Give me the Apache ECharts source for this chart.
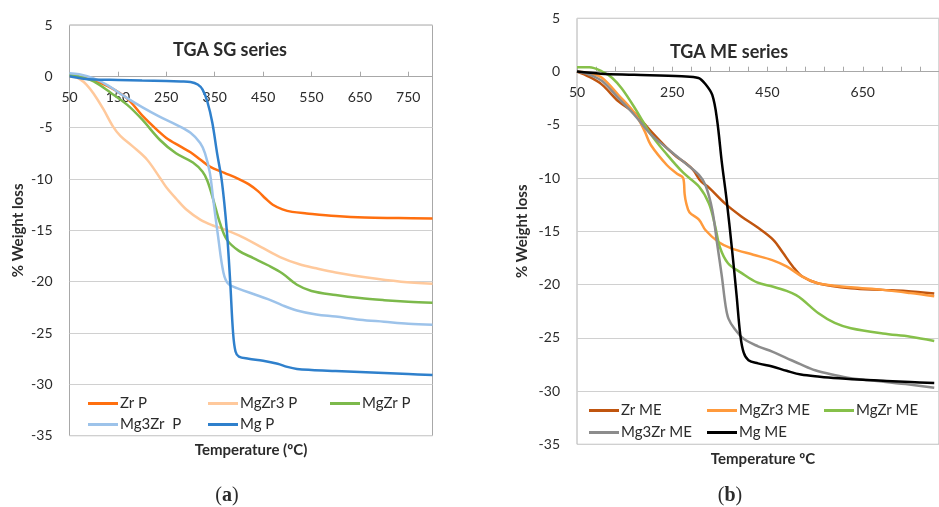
<!DOCTYPE html>
<html>
<head>
<meta charset="utf-8">
<script src="https://cdn.jsdelivr.net/npm/echarts@6/dist/echarts.min.js"></script>
<style>
  html, body { margin: 0; padding: 0; background: #fff; }
  #chart { width: 939px; height: 507px; }
</style>
</head>
<body>
<div id="chart"></div>
<script>
// TGA curves, [temperature °C, % weight loss]
const zrP = [[50,0],[75,-0.1],[100,-0.4],[135,-1.1],[170,-2.2],[200,-3.8],[235,-5.4],[250,-6.0],[278,-6.8],[300,-7.4],[320,-8.1],[340,-8.8],[370,-9.4],[400,-10.0],[420,-10.5],[440,-11.2],[455,-11.9],[470,-12.5],[490,-12.95],[510,-13.2],[540,-13.35],[600,-13.6],[660,-13.75],[730,-13.8],[800,-13.85]]
const mgZr3P = [[50,0],[60,-0.05],[72,-0.3],[85,-0.8],[100,-1.7],[120,-3.2],[140,-4.9],[155,-5.8],[180,-6.8],[210,-8.1],[237,-9.9],[250,-10.8],[270,-11.9],[292,-13.0],[320,-13.95],[345,-14.5],[370,-14.9],[400,-15.5],[445,-16.6],[485,-17.6],[525,-18.3],[560,-18.7],[600,-19.1],[665,-19.6],[735,-20.0],[800,-20.2]]
const mgZrP = [[50,0.1],[70,0],[100,-0.5],[135,-1.6],[170,-2.8],[200,-4.2],[237,-6.2],[270,-7.5],[305,-8.4],[325,-9.3],[335,-10.2],[347,-12],[361,-14.3],[375,-15.9],[400,-17],[430,-17.7],[460,-18.4],[490,-19.2],[520,-20.3],[550,-20.9],[600,-21.3],[650,-21.6],[700,-21.8],[750,-21.95],[800,-22.05]]
const mg3ZrP = [[50,0.3],[70,0.2],[100,-0.2],[130,-0.9],[165,-2],[200,-3],[235,-3.9],[270,-4.7],[300,-5.5],[320,-6.5],[330,-7.5],[340,-9.4],[347,-12],[357,-15.6],[368,-19.1],[378,-20.2],[400,-20.7],[430,-21.2],[460,-21.7],[490,-22.3],[520,-22.8],[560,-23.2],[600,-23.4],[650,-23.7],[700,-23.9],[750,-24.1],[800,-24.2]]
const mgP = [[50,0],[75,-0.2],[100,-0.3],[150,-0.35],[200,-0.4],[250,-0.45],[280,-0.5],[300,-0.55],[315,-0.8],[325,-1.3],[335,-2.5],[345,-4.5],[355,-7.5],[365,-10.3],[375,-15],[382,-20],[388,-25],[393,-26.8],[400,-27.3],[420,-27.5],[450,-27.7],[480,-28],[500,-28.3],[520,-28.5],[550,-28.6],[600,-28.7],[650,-28.8],[700,-28.9],[750,-29],[800,-29.1]]

const zrME = [[50,0],[76,-0.5],[103,-1.25],[137,-2.8],[171,-3.9],[205,-5.6],[239,-7.2],[259,-8.0],[275,-8.5],[293,-9.2],[310,-10.3],[327,-10.9],[361,-12.4],[395,-13.6],[428,-14.6],[462,-15.8],[482,-17],[503,-18.3],[523,-19.25],[557,-19.9],[625,-20.35],[692,-20.5],[740,-20.6],[800,-20.85]]
const mgZr3ME = [[50,0],[80,-0.2],[103,-0.6],[137,-2.2],[171,-3.9],[192,-5.6],[205,-6.9],[239,-8.8],[260,-9.6],[273,-10.0],[276,-11.5],[279,-12.3],[286,-13.2],[306,-13.9],[320,-14.9],[347,-16.0],[374,-16.6],[420,-17.2],[460,-17.7],[490,-18.3],[523,-19.25],[557,-19.9],[625,-20.25],[692,-20.5],[750,-20.8],[800,-21.1]]
const mgZrME = [[50,0.4],[76,0.4],[103,0],[124,-0.6],[144,-1.6],[171,-3.4],[205,-5.9],[239,-7.8],[273,-9.5],[306,-10.8],[327,-12.4],[340,-14.5],[350,-16.5],[367,-18],[395,-18.9],[428,-19.8],[462,-20.2],[490,-20.6],[510,-21],[523,-21.4],[557,-22.7],[591,-23.6],[625,-24.1],[692,-24.6],[750,-24.9],[800,-25.3]]
const mg3ZrME = [[50,0],[76,-0.3],[103,-0.9],[137,-2.5],[171,-4.1],[205,-5.9],[239,-7.2],[273,-8.45],[306,-9.7],[320,-10.7],[334,-13],[344,-16.1],[354,-19.2],[362,-22],[368,-23.2],[380,-24.1],[400,-25.1],[430,-25.8],[460,-26.3],[490,-26.9],[520,-27.5],[550,-28.05],[590,-28.5],[625,-28.8],[690,-29.1],[740,-29.35],[800,-29.7]]
const mgME = [[50,0],[100,-0.2],[170,-0.3],[270,-0.45],[305,-0.6],[320,-1.2],[334,-2.2],[344,-4.5],[354,-8.5],[364,-12],[375,-16.5],[385,-21],[393,-24.8],[400,-26.4],[410,-27.1],[430,-27.4],[460,-27.7],[490,-28.1],[520,-28.45],[560,-28.65],[600,-28.8],[650,-28.95],[700,-29.05],[750,-29.15],[800,-29.25]]

const seriesSG = [
  { name: 'Zr P', data: zrP, color: '#ff6f0f' },
  { name: 'MgZr3 P', data: mgZr3P, color: '#ffc99c' },
  { name: 'MgZr P', data: mgZrP, color: '#7cb94b' },
  { name: 'Mg3Zr  P', data: mg3ZrP, color: '#9dc3ea' },
  { name: 'Mg P', data: mgP, color: '#2f80cc' }
]
const seriesME = [
  { name: 'Zr ME', data: zrME, color: '#c0550f' },
  { name: 'MgZr3 ME', data: mgZr3ME, color: '#ff9a3c' },
  { name: 'MgZr ME', data: mgZrME, color: '#86c04a' },
  { name: 'Mg3Zr ME', data: mg3ZrME, color: '#8c8c8c' },
  { name: 'Mg ME', data: mgME, color: '#000000' }
]

const FONT = 'Lato, "Open Sans", sans-serif'
const TEXT = '#2b2b2b'

const chart = echarts.init(document.getElementById('chart'))

const makeYAxis = (gridIndex, gap) => ({
  gridIndex,
  type: 'value',
  min: -35,
  max: 5,
  interval: 5,
  name: '% Weight loss',
  nameLocation: 'middle',
  nameGap: gap,
  nameTextStyle: { fontFamily: FONT, fontSize: 15, fontWeight: 'bold', color: TEXT },
  axisLine: { show: false, onZero: false },
  axisTick: { show: false },
  axisLabel: { fontFamily: FONT, fontSize: 14, color: TEXT, margin: 17 },
  splitLine: { lineStyle: { color: '#d0d0d0', width: 1 } }
})

// x axis sits on the 0 line: position top, labels inside (below), ticks pointing up
const makeXAxis = (gridIndex, max, interval, offset, labelFmt) => ({
  gridIndex,
  type: 'value',
  min: 50,
  max,
  interval,
  position: 'top',
  offset,
  axisLine: { show: true, onZero: true, onZeroAxisIndex: gridIndex, lineStyle: { color: '#a8a8a8' } },
  axisTick: { inside: false, length: 5, lineStyle: { color: '#a8a8a8' } },
  axisLabel: {
    inside: true, fontFamily: FONT, fontSize: 14, color: TEXT, margin: 14,
    showMaxLabel: false, formatter: labelFmt
  },
  splitLine: { show: false }
})

const makeSeries = (list, idx) => list.map(s => ({
  name: s.name,
  type: 'line',
  xAxisIndex: idx,
  yAxisIndex: idx,
  data: s.data,
  showSymbol: false,
  smooth: 0.35,
  color: s.color,
  lineStyle: { width: 2.5, color: s.color }
}))

// legend slots: [name, left, top]
const legendSlots = [
  ['Zr P', 88, 396], ['MgZr3 P', 208, 396], ['MgZr P', 330, 396],
  ['Mg3Zr  P', 88, 417], ['Mg P', 208, 417],
  ['Zr ME', 589, 403], ['MgZr3 ME', 707, 403], ['MgZr ME', 824, 403],
  ['Mg3Zr ME', 589, 425], ['Mg ME', 707, 425]
]

const textEl = (text, x, y, size, weight, extra) => ({
  type: 'text',
  x, y,
  style: Object.assign({
    text,
    fill: TEXT,
    font: `${weight} ${size}px ${FONT}`,
    textAlign: 'center',
    textVerticalAlign: 'middle'
  }, extra || {})
})

const serifRich = { b: { fontWeight: 'bold', fontFamily: '"Liberation Serif", serif', fontSize: 20, fill: TEXT } }

chart.setOption({
  animation: false,
  backgroundColor: '#fff',
  grid: [
    { left: 69.5, top: 25, width: 363, height: 410.7, show: true, borderColor: '#a8a8a8', borderWidth: 1 },
    { left: 577, top: 18.3, width: 374.3, height: 426, show: true, borderColor: '#b0b0b0', borderWidth: 1 }
  ],
  xAxis: [
    makeXAxis(0, 800, 100, -51.7, v => String(v)),
    makeXAxis(1, 810, 40, -53.4, v => ((v - 50) % 200 === 0 ? String(v) : ''))
  ],
  yAxis: [makeYAxis(0, 44), makeYAxis(1, 47)],
  legend: legendSlots.map(([name, left, top]) => ({
    data: [name],
    left, top,
    padding: 0,
    icon: 'rect',
    itemWidth: 30,
    itemHeight: 3,
    itemGap: 4,
    textStyle: { fontFamily: FONT, fontSize: 15, color: TEXT, padding: [0, 0, 0, -3] },
    selectedMode: false
  })),
  graphic: [
    textEl('TGA SG series', 230, 50, 18, 'bold'),
    textEl('TGA ME series', 729, 52, 18, 'bold'),
    textEl('Temperature (ºC)', 251, 450, 15, 'bold'),
    textEl('Temperature ºC', 763, 459, 15, 'bold'),
    textEl('({b|a})', 227, 496, 20, 'normal', { font: '20px "Liberation Serif", serif', rich: serifRich }),
    textEl('({b|b})', 730, 496, 20, 'normal', { font: '20px "Liberation Serif", serif', rich: serifRich })
  ],
  series: makeSeries(seriesSG, 0).concat(makeSeries(seriesME, 1))
})
</script>
</body>
</html>
